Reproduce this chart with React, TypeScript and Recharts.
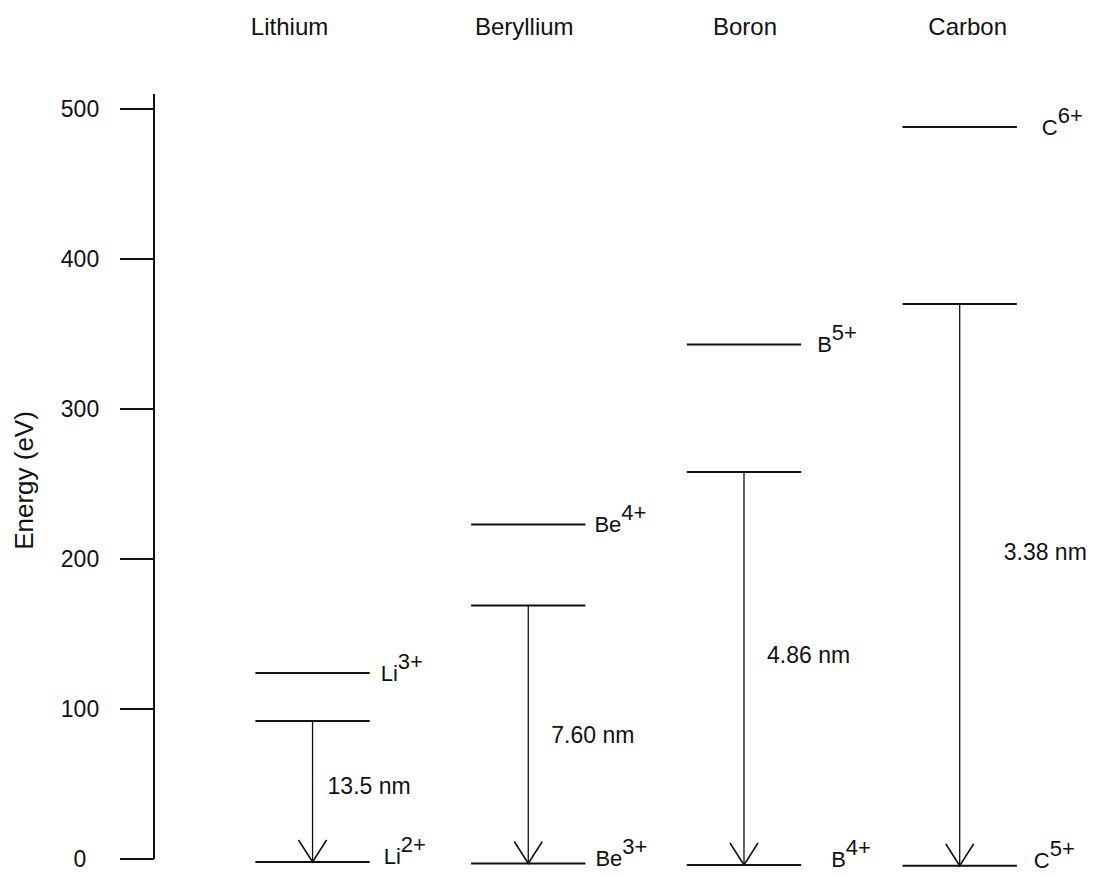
import React from 'react';
import { ComposedChart, XAxis, YAxis, ReferenceLine, ReferenceDot } from 'recharts';

// hydrogen-like ions, one column per element
const elements = ['Lithium', 'Beryllium', 'Boron', 'Carbon'];
const columns = [1, 2, 3, 4];
const symbols = ['Li', 'Be', 'B', 'C'];
const bareCharge = ['3+', '4+', '5+', '6+'];
const hydrogenicCharge = ['2+', '3+', '4+', '5+'];

// level energies in eV
const bareLevel = [124, 223, 343, 488];
const excitedLevel = [92, 169, 258, 370];
const groundLevel = [-2, -3, -4, -4.5];

const wavelengths = ['13.5 nm', '7.60 nm', '4.86 nm', '3.38 nm'];
const wavelengthLabelAt = [49, 83, 136, 205];

const energyTicks = [0, 100, 200, 300, 400, 500];

// layout tweaks (px), not data
const HEADER_DX = [-23, -4, 1, 8];
const BARE_LABEL_GAP = [11, 9, 16, 25];
const GROUND_LABEL_GAP = [14, 10, 30, 17];
const NM_DX = [15, 23, 23, 44];
const LEVEL_HALF = 0.265;

const FONT = '"Liberation Sans", Arial, Helvetica, sans-serif';
const INK = '#111';

const chartData = columns.map((c, i) => ({ col: c, name: elements[i] }));

const levels = columns.flatMap((c, i) => [
  { col: c, energy: bareLevel[i], sym: symbols[i], charge: bareCharge[i], gap: BARE_LABEL_GAP[i], drop: 7.5 },
  { col: c, energy: excitedLevel[i], sym: '', charge: '', gap: 0, drop: 0 },
  { col: c, energy: groundLevel[i], sym: symbols[i], charge: hydrogenicCharge[i], gap: GROUND_LABEL_GAP[i], drop: 2 },
]);

const HeaderTick = (props: any) => {
  const { x, y, payload } = props;
  const i = columns.indexOf(payload.value);
  return (
    <text x={x + HEADER_DX[i]} y={y - 59} textAnchor="middle" fontSize={24} fontFamily={FONT} fill={INK}>
      {elements[i]}
    </text>
  );
};

const EnergyTick = (props: any) => {
  const { x, y, payload } = props;
  return (
    <text x={x - 38} y={y} dy="0.355em" textAnchor="middle" fontSize={23} fontFamily={FONT} fill={INK}>
      {payload.value}
    </text>
  );
};

const AxisTitle = (props: any) => {
  const vb = props.viewBox;
  const cx = vb.x + 33;
  const cy = vb.y + vb.height / 2 + 4;
  return (
    <text x={cx} y={cy} transform={`rotate(-90, ${cx}, ${cy})`} textAnchor="middle" fontSize={26} fontFamily={FONT} fill={INK}>
      Energy (eV)
    </text>
  );
};

export default function App() {
  return (
    <div style={{ margin: -8, width: 1101, height: 877 }}>
      <ComposedChart width={1101} height={877} data={chartData} margin={{ top: 34, right: 0, bottom: 18, left: 0 }}>
        <XAxis
          xAxisId="top"
          orientation="top"
          type="number"
          dataKey="col"
          domain={[0.265, 4.655]}
          allowDataOverflow
          ticks={columns}
          axisLine={false}
          tickLine={false}
          tickSize={0}
          tickMargin={0}
          height={60}
          tick={<HeaderTick />}
        />
        <YAxis
          type="number"
          domain={[0, 510]}
          allowDataOverflow
          ticks={energyTicks}
          width={154}
          tickSize={34}
          tickMargin={2}
          axisLine={{ stroke: INK, strokeWidth: 2 }}
          tickLine={{ stroke: INK, strokeWidth: 2 }}
          tick={<EnergyTick />}
          label={<AxisTitle />}
        />
        {levels.map((lv, k) => (
          <ReferenceLine
            key={`lv-${k}`}
            xAxisId="top"
            ifOverflow="visible"
            segment={[
              { x: lv.col - LEVEL_HALF, y: lv.energy },
              { x: lv.col + LEVEL_HALF, y: lv.energy },
            ]}
            shape={(p: any) => (
              <g>
                <line x1={p.x1} y1={p.y1} x2={p.x2} y2={p.y2} stroke={INK} strokeWidth={2.2} />
                {lv.sym && (
                  <text x={p.x2 + lv.gap} y={p.y2 + lv.drop} fontSize={22} fontFamily={FONT} fill={INK}>
                    {lv.sym}
                    <tspan dy={-12}>{lv.charge}</tspan>
                  </text>
                )}
              </g>
            )}
          />
        ))}
        {columns.map((c, i) => (
          <ReferenceLine
            key={`ar-${i}`}
            xAxisId="top"
            ifOverflow="visible"
            segment={[
              { x: c, y: excitedLevel[i] },
              { x: c, y: groundLevel[i] },
            ]}
            shape={(p: any) => (
              <g>
                <line x1={p.x1} y1={p.y1} x2={p.x2} y2={p.y2} stroke={INK} strokeWidth={1.3} />
                <polyline
                  points={`${p.x2 - 14},${p.y2 - 22} ${p.x2},${p.y2} ${p.x2 + 14},${p.y2 - 22}`}
                  fill="none"
                  stroke={INK}
                  strokeWidth={1.6}
                />
              </g>
            )}
          />
        ))}
        {columns.map((c, i) => (
          <ReferenceDot
            key={`nm-${i}`}
            xAxisId="top"
            x={c}
            y={wavelengthLabelAt[i]}
            r={0}
            ifOverflow="visible"
            shape={(p: any) => (
              <text x={p.cx + NM_DX[i]} y={p.cy} dy="0.36em" fontSize={23} fontFamily={FONT} fill={INK}>
                {wavelengths[i]}
              </text>
            )}
          />
        ))}
      </ComposedChart>
    </div>
  );
}
